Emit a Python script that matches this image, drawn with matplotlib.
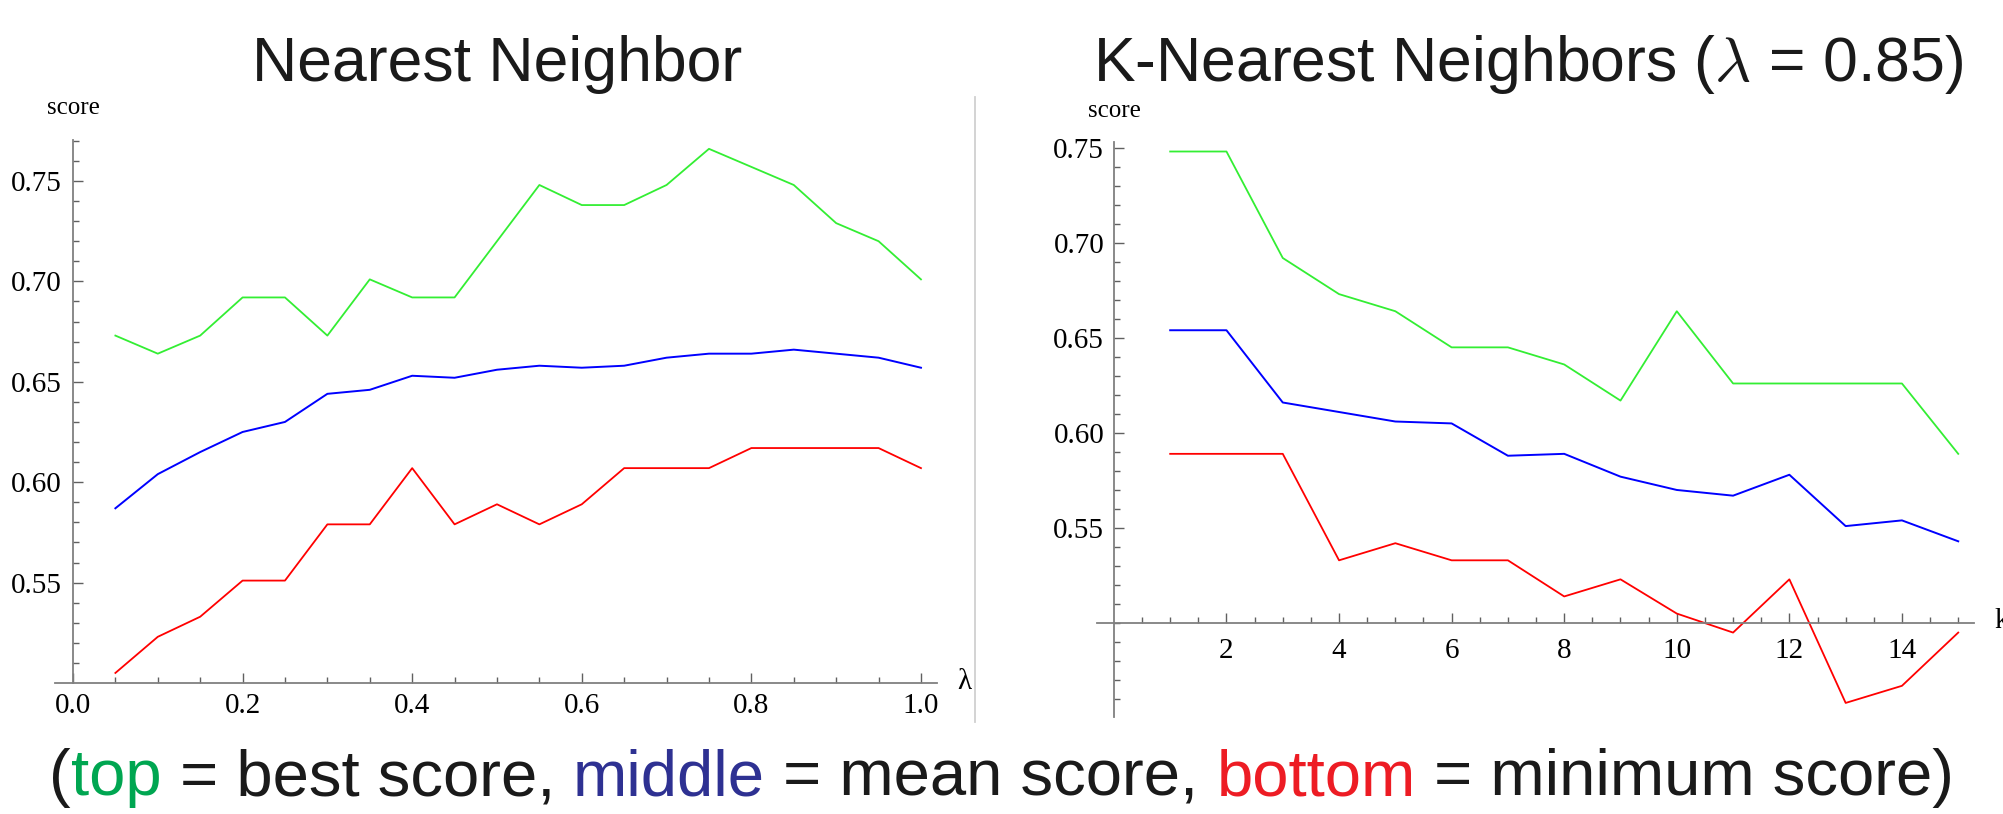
import matplotlib
matplotlib.use("Agg")
import matplotlib.pyplot as plt
from matplotlib.lines import Line2D
import numpy as np

# --- data ---
lambdas = [0.05, 0.10, 0.15, 0.20, 0.25, 0.30, 0.35, 0.40, 0.45, 0.50,
           0.55, 0.60, 0.65, 0.70, 0.75, 0.80, 0.85, 0.90, 0.95, 1.00]
nn_best = [0.673, 0.664, 0.673, 0.692, 0.692, 0.673, 0.701, 0.692, 0.692, 0.720,
           0.748, 0.738, 0.738, 0.748, 0.766, 0.757, 0.748, 0.729, 0.720, 0.701]
nn_mean = [0.587, 0.604, 0.615, 0.625, 0.630, 0.644, 0.646, 0.653, 0.652, 0.656,
           0.658, 0.657, 0.658, 0.662, 0.664, 0.664, 0.666, 0.664, 0.662, 0.657]
nn_min = [0.505, 0.523, 0.533, 0.551, 0.551, 0.579, 0.579, 0.607, 0.579, 0.589,
          0.579, 0.589, 0.607, 0.607, 0.607, 0.617, 0.617, 0.617, 0.617, 0.607]

ks = [1, 2, 3, 4, 5, 6, 7, 8, 9, 10, 11, 12, 13, 14, 15]
knn_best = [0.748, 0.748, 0.692, 0.673, 0.664, 0.645, 0.645, 0.636, 0.617, 0.664,
            0.626, 0.626, 0.626, 0.626, 0.589]
knn_mean = [0.654, 0.654, 0.616, 0.611, 0.606, 0.605, 0.588, 0.589, 0.577, 0.570,
            0.567, 0.578, 0.551, 0.554, 0.543]
knn_min = [0.589, 0.589, 0.589, 0.533, 0.542, 0.533, 0.533, 0.514, 0.523, 0.505,
           0.495, 0.523, 0.458, 0.467, 0.495]

y_major = [0.55, 0.60, 0.65, 0.70, 0.75]
caption_parts = [("(", "#1a1a1a"), ("top", "#00a651"), (" = best score, ", "#1a1a1a"),
                 ("middle", "#2e3192"), (" = mean score, ", "#1a1a1a"),
                 ("bottom", "#ed1c24"), (" = minimum score)", "#1a1a1a")]

W, H = 2003, 814
plt.rcParams['font.family'] = ['Liberation Serif', 'DejaVu Serif']
plt.rcParams['mathtext.fontset'] = 'cm'

fig = plt.figure(figsize=(W / 100, H / 100), dpi=100)

AXIS_COL = '#808080'
TICK_COL = '#606060'


def px_box(x0, x1, y0, y1):
    """axes rect in figure coords from pixel edges (y from top)"""
    return [x0 / W, 1 - y1 / H, (x1 - x0) / W, (y1 - y0) / H]


def style_axes(ax, xlim, ylim, xmajor, xminor, yminor, xlabels, xpad, ypad):
    ax.set_xlim(*xlim)
    ax.set_ylim(*ylim)
    ax.patch.set_visible(False)
    for s in ['top', 'right']:
        ax.spines[s].set_visible(False)
    ax.spines['left'].set_position(('data', 0))
    ax.spines['bottom'].set_position(('data', 0.5))
    for s in ['left', 'bottom']:
        ax.spines[s].set_color(AXIS_COL)
        ax.spines[s].set_linewidth(1.3)
    ax.set_xticks(xmajor)
    ax.set_xticklabels(xlabels)
    ax.set_xticks(xminor, minor=True)
    ax.set_yticks(y_major)
    ax.set_yticklabels(['%.2f' % v for v in y_major])
    ax.set_yticks(yminor, minor=True)
    ax.tick_params(which='both', direction='in', color=TICK_COL, width=1.0,
                   labelsize=21)
    ax.tick_params(which='major', length=7)
    ax.tick_params(which='minor', length=4.5)
    ax.tick_params(axis='x', which='major', pad=xpad)
    ax.tick_params(axis='y', which='major', pad=ypad)


def draw_lines(ax, x, best, mean, low):
    ax.plot(x, best, color='#33ee33', lw=1.3, clip_on=False)
    ax.plot(x, mean, color='#0000ff', lw=1.4, clip_on=False)
    ax.plot(x, low, color='#ff0000', lw=1.3, clip_on=False)


# left panel: nearest neighbour vs lambda
ax1 = fig.add_axes(px_box(55, 937, 140, 683))
style_axes(ax1, (-0.0212, 1.0189), (0.5, 0.7704),
           [0.0, 0.2, 0.4, 0.6, 0.8, 1.0],
           [v for v in np.arange(0.05, 1.001, 0.05) if round(v * 100) % 20 != 0],
           [v for v in np.arange(0.51, 0.771, 0.01) if round(v * 100) % 5 != 0],
           ['0.0', '0.2', '0.4', '0.6', '0.8', '1.0'], 7.5, 8)
draw_lines(ax1, lambdas, nn_best, nn_mean, nn_min)

# right panel: k nearest neighbours vs k
ax2 = fig.add_axes(px_box(1097, 1974, 142, 717))
style_axes(ax2, (-0.30, 15.28), (0.4506, 0.753),
           [2, 4, 6, 8, 10, 12, 14],
           [v for v in np.arange(0.5, 15.01, 0.5) if v % 2 != 0],
           [v for v in np.arange(0.46, 0.751, 0.01)
            if round(v * 100) % 5 != 0 or round(v * 100) == 50],
           ['2', '4', '6', '8', '10', '12', '14'], 11, 7)
ax2.spines['left'].set_bounds(0.4506, 0.753)
draw_lines(ax2, ks, knn_best, knn_mean, knn_min)

# axis captions
fig.text(73 / W, 1 - 108 / H, 'score', ha='center', va='center', fontsize=18)
fig.text(1114 / W, 1 - 111 / H, 'score', ha='center', va='center', fontsize=18)
fig.text(964 / W, 1 - 682 / H, 'λ', ha='center', va='center', fontsize=21)
fig.text(1994 / W, 1 - 621 / H, 'k', ha='left', va='center', fontsize=21)

# titles
fig.text(497 / W, 1 - 81 / H, 'Nearest Neighbor', ha='center', va='baseline',
         fontsize=45, family='Liberation Sans', color='#1a1a1a')
fig.text(1528 / W, 1 - 81 / H, r'K-Nearest Neighbors ($\lambda$ = 0.85)',
         ha='center', va='baseline', fontsize=45, family='Liberation Sans',
         color='#1a1a1a')

# separator between panels
fig.add_artist(Line2D([975 / W, 975 / W], [1 - 97 / H, 1 - 722 / H],
                      transform=fig.transFigure, color='#d0d0d0', lw=1.3))

# coloured caption, drawn piece by piece
renderer = fig.canvas.get_renderer()
pieces = []
x = 0.0
for txt, col in caption_parts:
    t = fig.text(x, 1 - 795 / H, txt, ha='left', va='baseline', fontsize=47,
                 family='Liberation Sans', color=col)
    bb = t.get_window_extent(renderer)
    pieces.append(t)
    x += bb.width / W
shift = 0.5 - x / 2
for t in pieces:
    px, py = t.get_position()
    t.set_position((px + shift, py))

fig.savefig('out.png', dpi=100)
